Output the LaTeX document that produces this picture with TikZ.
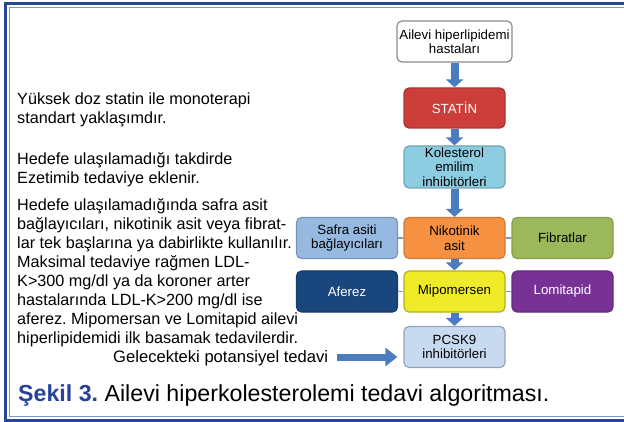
\documentclass[tikz,border=0pt]{standalone}
\usepackage{fontspec}
\setmainfont{Liberation Sans}
\usetikzlibrary{arrows.meta}
\frenchspacing

\definecolor{framedark}{RGB}{40,70,150}
\definecolor{framelight}{RGB}{125,148,202}
\definecolor{capblue}{RGB}{38,66,156}
\definecolor{arrowblue}{RGB}{75,125,190}
\definecolor{linkgray}{RGB}{135,150,172}
\definecolor{boxgray}{RGB}{140,140,140}
\definecolor{statinred}{RGB}{204,62,58}
\definecolor{kolblue}{RGB}{140,205,225}
\definecolor{safrablue}{RGB}{150,185,225}
\definecolor{nikorange}{RGB}{245,145,65}
\definecolor{fibgreen}{RGB}{155,185,90}
\definecolor{aferezblue}{RGB}{25,70,125}
\definecolor{mipoyellow}{RGB}{240,235,40}
\definecolor{lomipurple}{RGB}{120,50,150}
\definecolor{pcskblue}{RGB}{200,218,240}

\tikzstyle{box} = [draw, line width=1.2pt, rounded corners=5pt, minimum width=101pt, minimum height=41pt, inner sep=1pt, align=center, font=\fontsize{13.3}{14.5}\selectfont]
\tikzstyle{start box} = [box, fill=white, draw=boxgray, minimum width=115pt]
\tikzstyle{statin box} = [box, fill=statinred, draw=statinred!85!black, text=white, minimum height=40pt]
\tikzstyle{kol box} = [box, fill=kolblue, draw=kolblue!80!black, minimum height=42pt]
\tikzstyle{safra box} = [box, fill=safrablue, draw=safrablue!80!black]
\tikzstyle{nik box} = [box, fill=nikorange, draw=nikorange!85!black]
\tikzstyle{fib box} = [box, fill=fibgreen, draw=fibgreen!85!black]
\tikzstyle{aferez box} = [box, fill=aferezblue, draw=aferezblue!85!black, text=white]
\tikzstyle{mipo box} = [box, fill=mipoyellow, draw=mipoyellow!75!black]
\tikzstyle{lomi box} = [box, fill=lomipurple, draw=lomipurple!85!black, text=white]
\tikzstyle{pcsk box} = [box, fill=pcskblue, draw=pcskblue!75!black]
\tikzstyle{down arrow} = [draw, line width=8pt, arrowblue, -{Triangle[width=17pt,length=8pt]}]
\tikzstyle{future arrow} = [draw, line width=7pt, arrowblue, -{Triangle[width=18pt,length=12pt]}]
\tikzstyle{side edge} = [draw, line width=1.5pt, -, linkgray]
\tikzstyle{note} = [anchor=north west, align=left, inner sep=0pt, font=\fontsize{16.2}{19}\selectfont]

\begin{document}
\begin{tikzpicture}[x=1pt,y=-1pt]
       \useasboundingbox (0,0) rectangle (624,422);
       % frame
       \draw[framedark, line width=3pt] (624,3.5) -- (5.5,3.5) -- (5.5,420.5) -- (624,420.5);
       \draw[framelight, line width=1.5pt] (624,7.5) -- (9.5,7.5) -- (9.5,416.5) -- (624,416.5);
       \foreach \pos/\name/\kind/\txt in {{(454.5,41.5)/start/start box/{Ailevi hiperlipidemi\\hastaları}},
           {(454.5,108)/statin/statin box/{STATİN}}, {(454.5,167)/kol/kol box/{Kolesterol\\emilim\\inhibitörleri}},
           {(347,238)/safra/safra box/{Safra asiti\\bağlayıcıları}}, {(454.5,238)/nik/nik box/{Nikotinik\\asit}},
           {(562.5,238)/fib/fib box/{Fibratlar}}, {(347,291.5)/aferez/aferez box/{Aferez}},
           {(454.5,291.5)/mipo/mipo box/{Mipomersen}}, {(562.5,291.5)/lomi/lomi box/{Lomitapid}},
           {(454.5,347)/pcsk/pcsk box/{PCSK9\\inhibitörleri}}} {
           \node[\kind] (\name) at \pos {\txt};
       }
       \foreach \source/\sink in {start/statin, statin/kol, kol/nik, nik/mipo, mipo/pcsk} {
           \path[down arrow] (\source) -- (\sink);
       }
       \foreach \source/\sink in {safra/nik, nik/fib, aferez/mipo, mipo/lomi} {
           \path[side edge] (\source) -- (\sink);
       }
       % notes on the left
       \node[note] (n1) at (17,92.5) {Yüksek doz statin ile monoterapi\\standart yaklaşımdır.};
       \node[note] (n2) at (17,152.5) {Hedefe ulaşılamadığı takdirde\\Ezetimib tedaviye eklenir.};
       \node[note] (n3) at (17,198.3) {Hedefe ulaşılamadığında safra asit\\bağlayıcıları, nikotinik asit veya fibrat-\\lar tek başlarına ya dabirlikte kullanılır.\\Maksimal tedaviye rağmen LDL-\\K>300 mg/dl ya da koroner arter\\hastalarında LDL-K>200 mg/dl ise\\aferez. Mipomersan ve Lomitapid ailevi\\hiperlipidemidi ilk basamak tedavilerdir.};
       \node[anchor=base west, inner sep=0pt, font=\fontsize{16.6}{19}\selectfont] (gelecek) at (113,362) {Gelecekteki potansiyel tedavi};
       \coordinate (future) at (337,357);
       \path[future arrow, shorten >=6pt] (future) -- (future -| pcsk.west);
       % caption
       \node[anchor=base west, inner sep=0pt, font=\fontsize{23.2}{26}\selectfont] (caption) at (18,401.5) {{\color{capblue}\bfseries Şekil 3.} Ailevi hiperkolesterolemi tedavi algoritması.};
\end{tikzpicture}
\end{document}
